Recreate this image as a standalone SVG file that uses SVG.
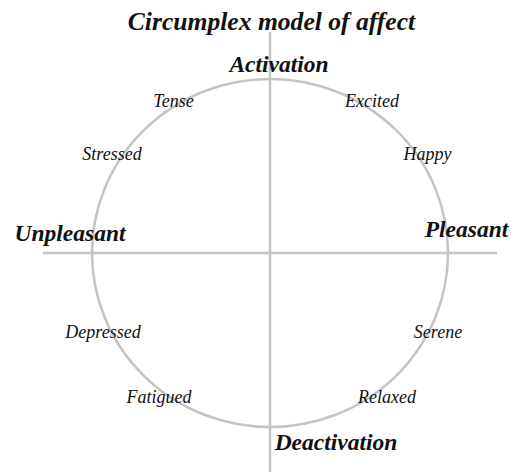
<svg xmlns="http://www.w3.org/2000/svg" width="511" height="472" viewBox="0 0 511 472">
<style>
.ax{stroke:#c4c4c4;stroke-width:2.5;fill:none}
.t{font-family:"Liberation Serif","Times New Roman",serif;font-style:italic;fill:#111;text-anchor:middle}
.b{font-weight:bold}
.big{font-size:25.6px}
.mid{font-size:23.5px}
.sm{font-size:18px}
</style>
<rect width="511" height="472" fill="#fff"/>
<g id="connectors">
<ellipse class="ax" cx="270" cy="253" rx="178" ry="174"/>
<line class="ax" x1="270" y1="32" x2="270" y2="472"/>
<line class="ax" x1="43" y1="253" x2="497" y2="253"/>
</g>
<text class="t b big" x="271.5" y="30">Circumplex model of affect</text>
<g id="activation"><text class="t b mid" x="279" y="72">Activation</text></g>
<g id="deactivation"><text class="t b mid" x="336" y="450">Deactivation</text></g>
<g id="unpleasant"><text class="t b mid" x="70" y="241">Unpleasant</text></g>
<g id="pleasant"><text class="t b mid" x="466.5" y="237">Pleasant</text></g>
<g id="tense"><text class="t sm" x="173.5" y="107">Tense</text></g>
<g id="excited"><text class="t sm" x="372" y="107">Excited</text></g>
<g id="stressed"><text class="t sm" x="112" y="160">Stressed</text></g>
<g id="happy"><text class="t sm" x="427.5" y="160">Happy</text></g>
<g id="depressed"><text class="t sm" x="103" y="338">Depressed</text></g>
<g id="serene"><text class="t sm" x="438" y="338">Serene</text></g>
<g id="fatigued"><text class="t sm" x="159" y="403">Fatigued</text></g>
<g id="relaxed"><text class="t sm" x="387" y="403">Relaxed</text></g>
</svg>
